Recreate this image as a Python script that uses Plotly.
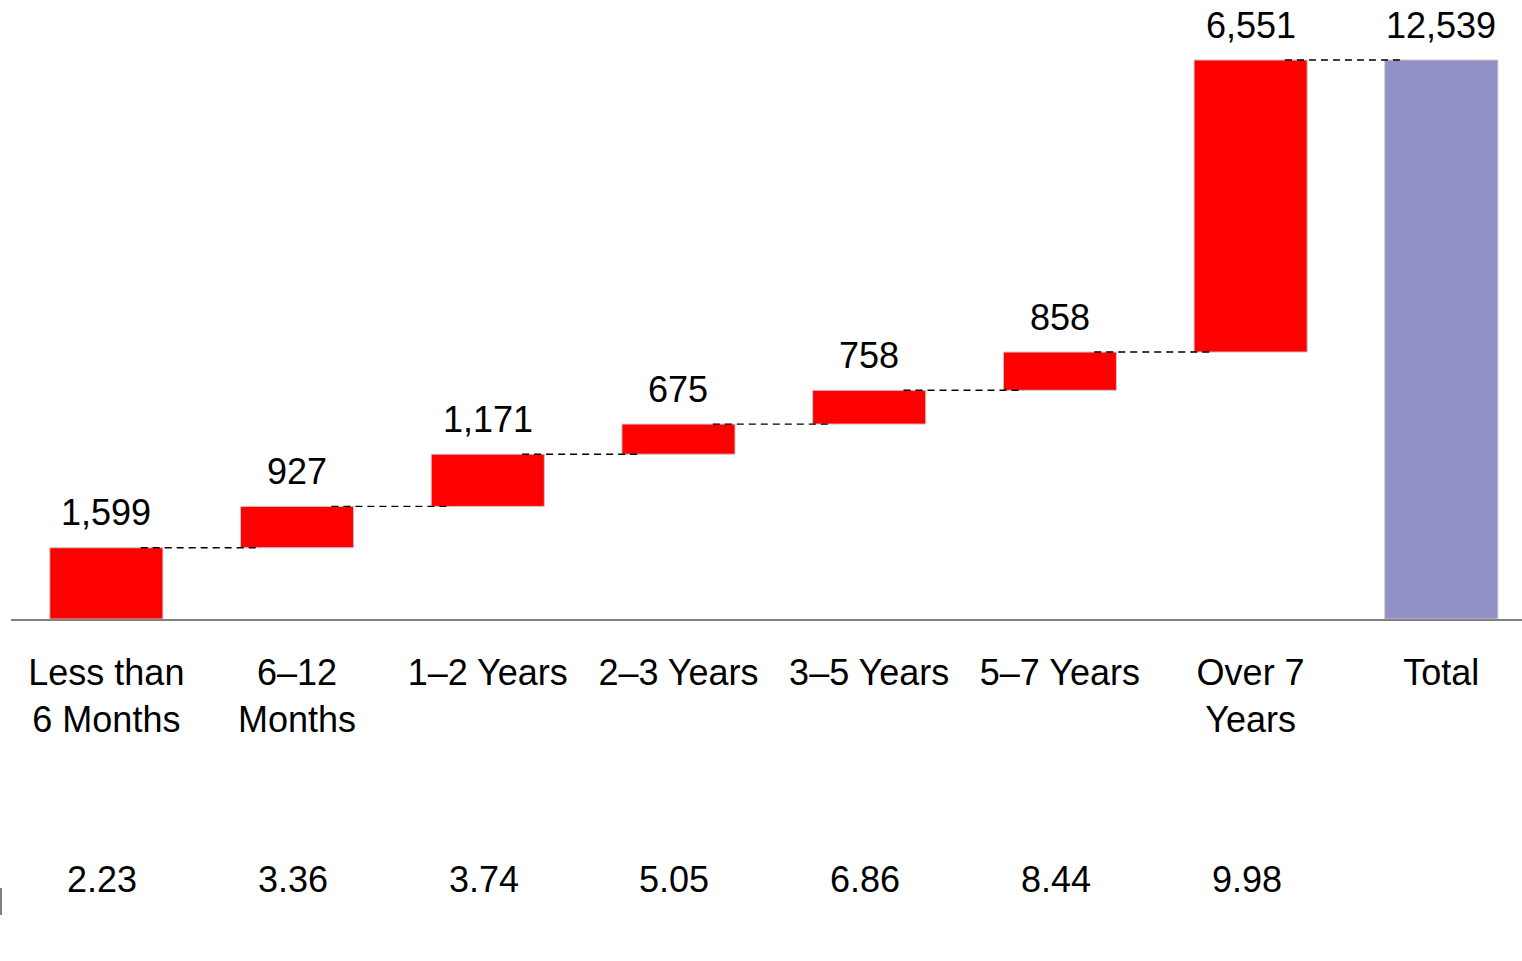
import plotly.graph_objects as go

categories = ["Less than<br>6 Months", "6–12<br>Months", "1–2 Years", "2–3 Years",
              "3–5 Years", "5–7 Years", "Over 7<br>Years", "Total"]
values = [1599, 927, 1171, 675, 758, 858, 6551, 12539]
measures = ["relative"] * 7 + ["total"]
bottom_values = ["2.23", "3.36", "3.74", "5.05", "6.86", "8.44", "9.98"]

FONT = "Liberation Sans, Arial, sans-serif"
FS = 36

# cumulative tops
tops = []
run = 0
for v, m in zip(values, measures):
    if m == "total":
        tops.append(run)
    else:
        run += v
        tops.append(run)

fig = go.Figure()
fig.add_trace(go.Waterfall(
    x=categories, y=values, measure=measures,
    connector=dict(visible=False),
    increasing=dict(marker=dict(color="#FF0000", line=dict(color="#C8C8C8", width=1))),
    totals=dict(marker=dict(color="#9191C6", line=dict(color="#C8C8C8", width=1))),
    textinfo="none", hoverinfo="x+y",
    showlegend=False,
))

# value labels above bars
for i, (v, t) in enumerate(zip(values, tops)):
    fig.add_annotation(x=i, y=t, text=f"{v:,}", showarrow=False,
                       yanchor="middle", yshift=35,
                       font=dict(family=FONT, size=FS, color="#000000"))

# dashed connectors
shapes = []
for i in range(len(values) - 1):
    shapes.append(dict(type="line", xref="x", yref="y",
                       x0=i + 0.18, x1=i + 1 - 0.19, y0=tops[i], y1=tops[i],
                       line=dict(color="#000000", width=1.4, dash="7px,5px")))
# small mark at left
shapes.append(dict(type="line", xref="paper", yref="paper",
                   x0=-10 / 1511, x1=-10 / 1511, y0=(619 - 888) / 619, y1=(619 - 915) / 619,
                   line=dict(color="#808080", width=2)))

# bottom row numbers
for i, b in enumerate(bottom_values):
    fig.add_annotation(x=i, xref="x", y=(619 - 879) / 619, yref="paper",
                       text=b, showarrow=False, yanchor="middle", xshift=-4,
                       font=dict(family=FONT, size=FS, color="#000000"))

fig.update_layout(
    width=1522, height=961,
    margin=dict(l=11, r=0, t=0, b=342),
    plot_bgcolor="white", paper_bgcolor="white",
    shapes=shapes,
    waterfallgap=0.407,
    xaxis=dict(range=[-0.5, 7.423], showline=True, linecolor="#808080", linewidth=2,
               ticks="", showgrid=False, zeroline=False, ticklabelstandoff=21,
               tickfont=dict(family=FONT, size=FS, color="#000000")),
    yaxis=dict(range=[0, 13885], visible=False, showgrid=False, zeroline=False),
    font=dict(family=FONT),
)

fig.write_html("out.html", config={"displayModeBar": False},
               post_script="document.body.style.margin='0';")
